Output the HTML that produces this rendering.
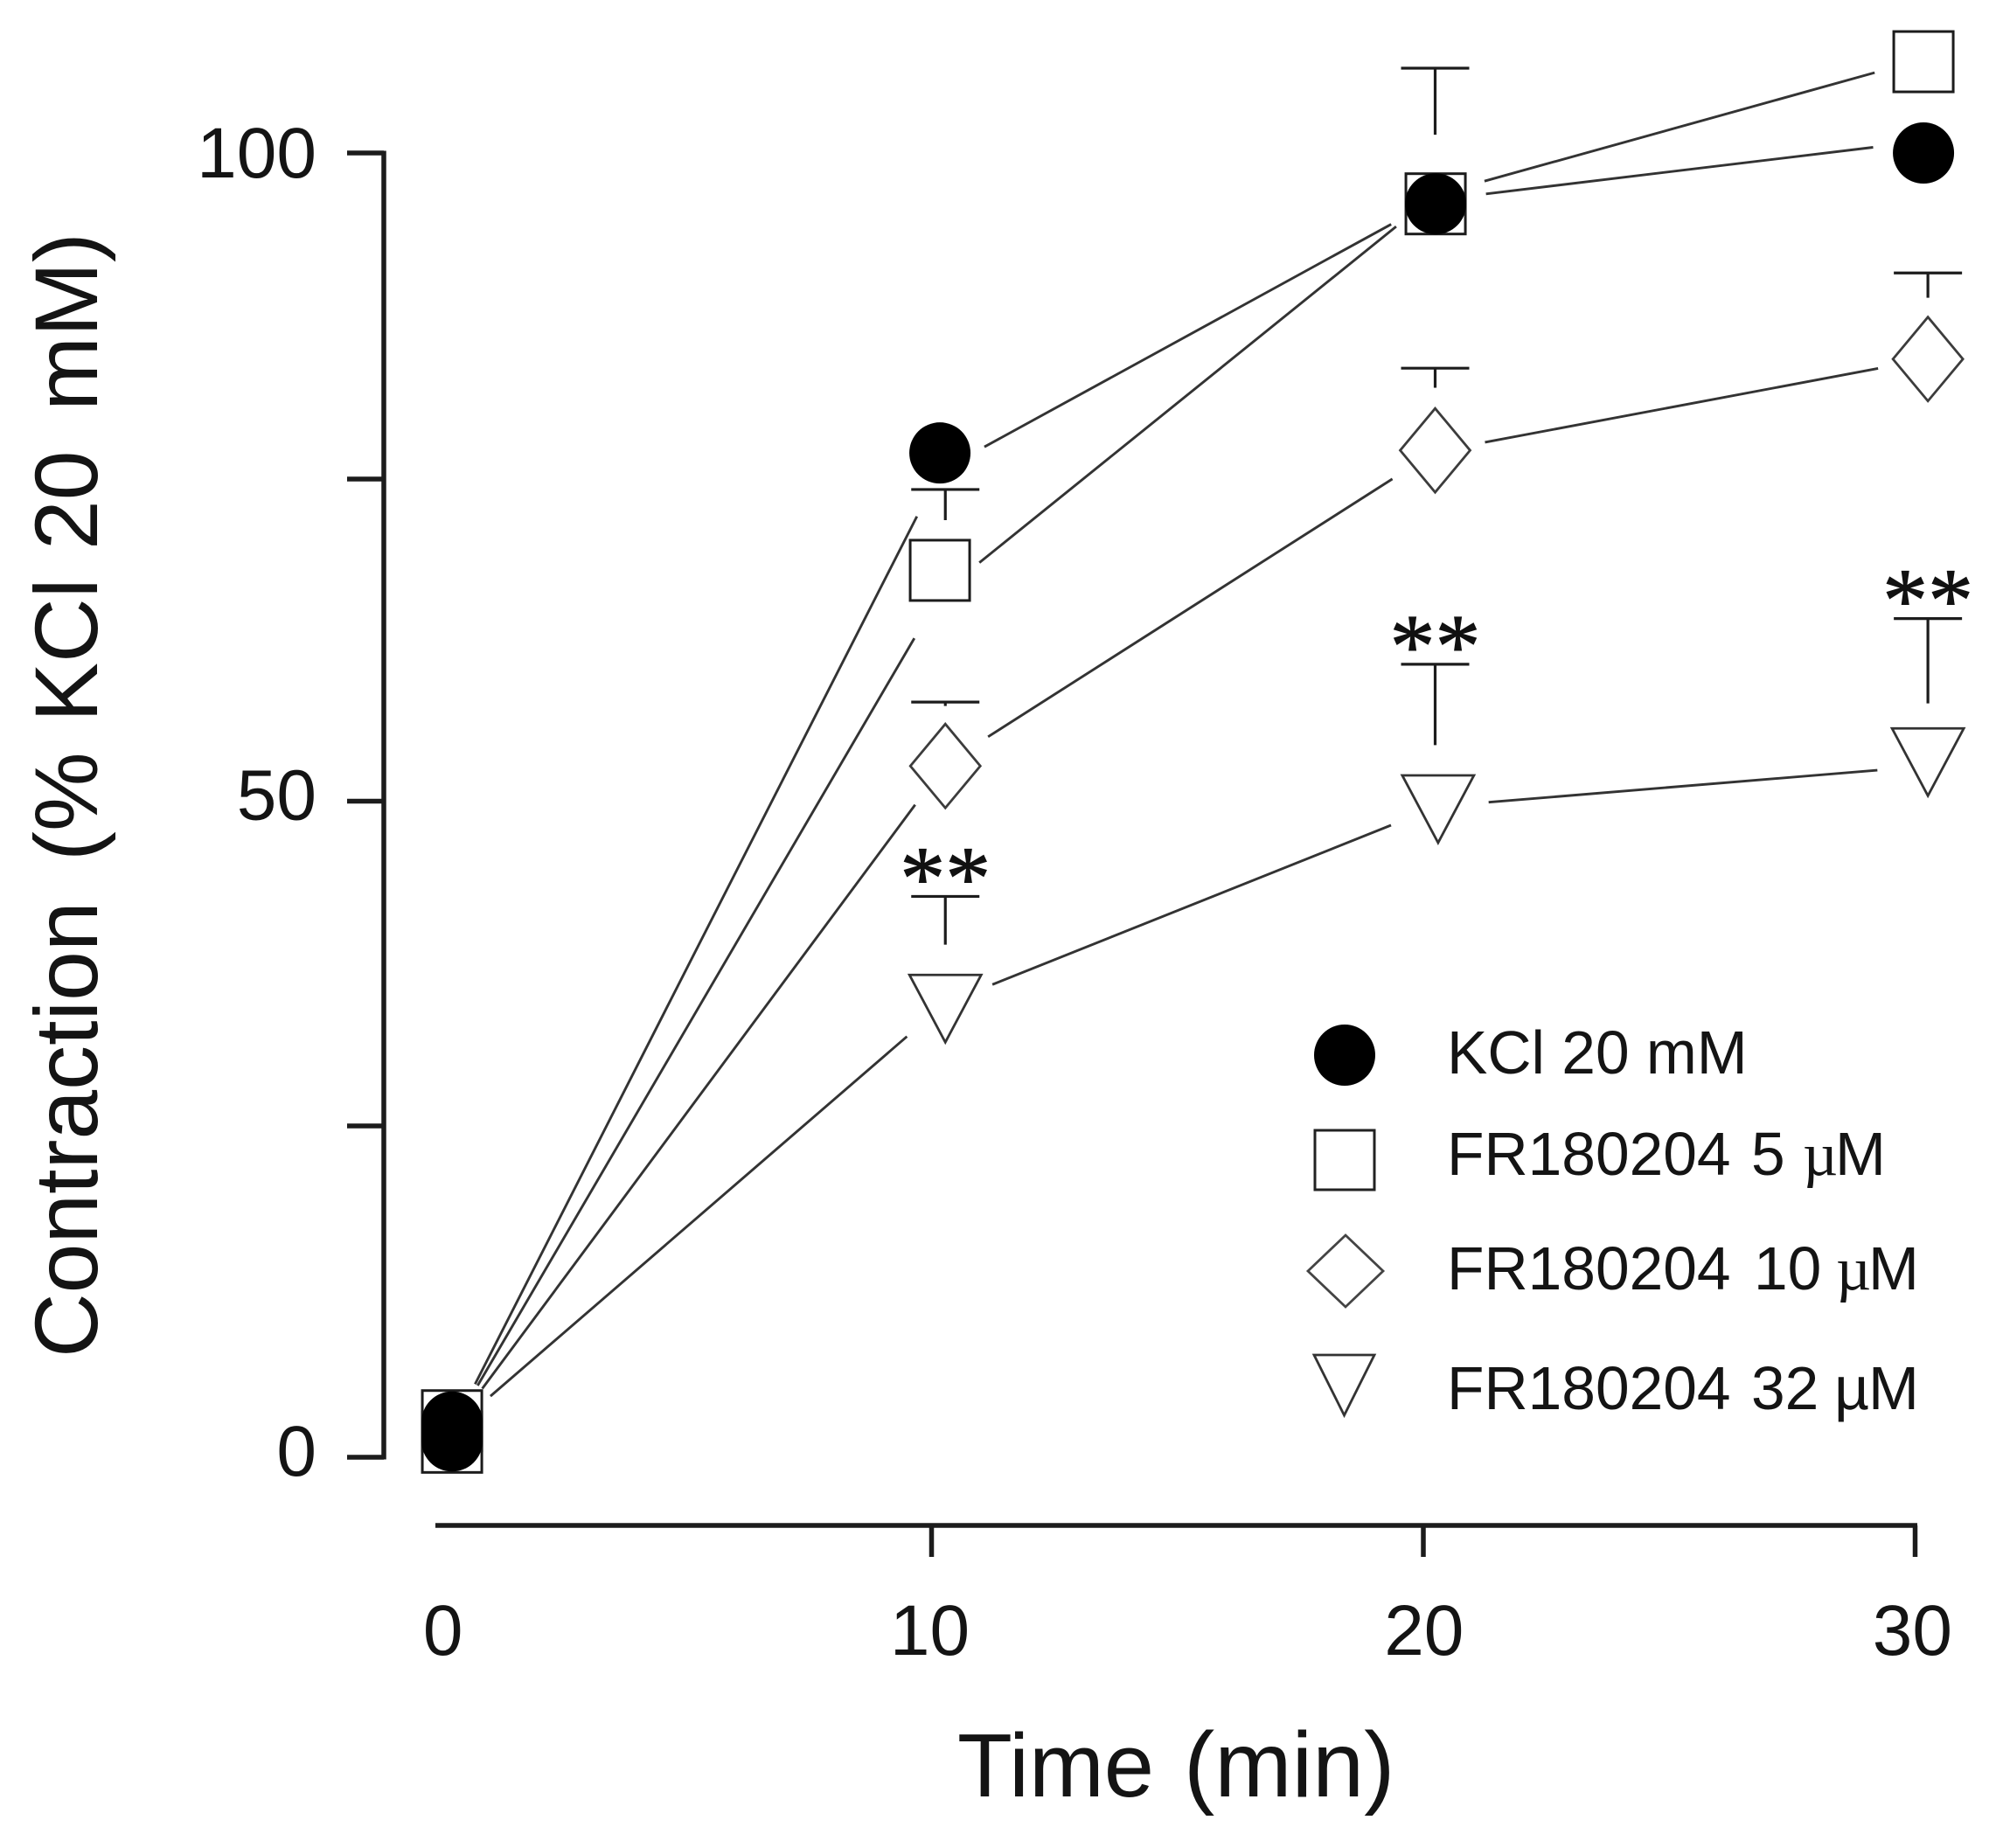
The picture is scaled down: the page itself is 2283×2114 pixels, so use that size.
<!DOCTYPE html>
<html lang="en">
<head>
<meta charset="utf-8">
<title>Contraction time course</title>
<style>
  html, body { margin: 0; padding: 0; background: #fff; }
  svg { display: block; }
  text { font-family: "Liberation Sans", sans-serif; fill: #141414; }
</style>
</head>
<body>
<svg id="chart" xmlns="http://www.w3.org/2000/svg" width="2283" height="2114" viewBox="0 0 2283 2114">
  <rect x="0" y="0" width="2283" height="2114" fill="#fff"/>
  <g id="axes"></g>
  <g id="lines"></g>
  <g id="errors"></g>
  <g id="markers"></g>
  <g id="stars"></g>

  <text transform="translate(111 1553) rotate(-90)" font-size="102"><tspan x="0">Contraction</tspan><tspan x="568">(%</tspan><tspan x="727">KCl</tspan><tspan x="924">20</tspan><tspan x="1083">mM)</tspan></text>
  <text y="2055" font-size="103"><tspan x="1095">Time</tspan><tspan x="1354" font-size="106">(min)</tspan></text>

  <g>
    <circle cx="1538" cy="1207" r="35" fill="#000"/>
    <rect x="1504" y="1293" width="68" height="68" fill="#fff" stroke="#222" stroke-width="3"/>
    <polygon points="1539,1413 1582,1454 1539,1495 1496,1454" fill="#fff" stroke="#444" stroke-width="2.800"/>
    <polygon points="1503,1550 1572,1550 1537.500,1619" fill="#fff" stroke="#333" stroke-width="2.800"/>
    <text x="1655" y="1228" font-size="69.500">KCl 20 mM</text>
    <text y="1344" font-size="69.500"><tspan x="1655">FR180204</tspan><tspan x="2003">5</tspan><tspan x="2062" font-family="Liberation Serif">µ</tspan><tspan x="2099">M</tspan></text>
    <text y="1475" font-size="69.500"><tspan x="1655">FR180204</tspan><tspan x="2006">10</tspan><tspan x="2100" font-family="Liberation Serif">µ</tspan><tspan x="2137">M</tspan></text>
    <text y="1612" font-size="69.500"><tspan x="1655">FR180204</tspan><tspan x="2003">32</tspan><tspan x="2098">µ</tspan><tspan x="2137">M</tspan></text>
  </g>
</svg>
<script>
// Axis tick data
var yTickValues = [0, 25.4, 50.3, 75, 100];
var yTickLabels = ["0", "", "50", "", "100"];
var xTickValues = [10, 20, 30];
var xLabelValues = [0.1, 10, 20.05, 29.98];
var xTickLabels = ["0", "10", "20", "30"];

// KCl 20 mM
var kclTimes = [10.17, 20.25, 30.17];
var kclValues = [77.0, 96.1, 100.0];
var kclLineTimes = [0.25, 10.17, 20.25, 30.17];
var kclLineValues = [2.14, 75.6, 96.4, 100.9];

// FR180204 5 uM
var fr5Times = [10.17, 20.25, 30.17];
var fr5Values = [68.0, 96.1, 107.0];
var fr5LineTimes = [0.25, 10.17, 20.25, 30.17];
var fr5LineValues = [2.14, 66.15, 96.8, 107.2];
var fr5ErrTimes = [10.28, 20.24];
var fr5ErrTop = [74.2, 106.5];
var fr5ErrBottom = [71.85, 101.4];

// FR180204 10 uM
var fr10Times = [10.28, 20.24, 30.26];
var fr10Values = [53.0, 77.2, 84.2];
var fr10LineTimes = [0.25, 10.28, 20.24, 30.26];
var fr10LineValues = [2.14, 53.15, 77.1, 84.2];
var fr10ErrTop = [57.9, 83.5, 90.8];
var fr10ErrBottom = [57.6, 82.0, 88.9];

// FR180204 32 uM
var fr32Times = [10.28, 20.3, 30.26];
var fr32Values = [34.4, 49.7, 53.3];
var fr32LineTimes = [0.25, 10.28, 20.3, 30.26];
var fr32LineValues = [2.14, 34.8, 49.9, 53.0];
var fr32ErrTimes = [10.28, 20.24, 30.26];
var fr32ErrTop = [43.0, 60.8, 64.3];
var fr32ErrBottom = [39.3, 54.6, 57.8];

// Overlapping markers at time zero
var baselineTime = [0.25];
var baselineSquareValues = [2.8, 1.15];
var baselineCircleValues = [2.7, 2.3, 1.9, 1.55, 1.25];

function xScale(t) { return 503 + 56.25 * t; }
function yScale(v) { return 1667 - 14.92 * v; }

var NS = 'http://www.w3.org/2000/svg';
function make(parentId, tag, attrs) {
  var node = document.createElementNS(NS, tag);
  for (var k in attrs) { node.setAttribute(k, attrs[k]); }
  document.getElementById(parentId).appendChild(node);
  return node;
}
var AXIS = { stroke: '#1c1c1c', 'stroke-width': 5.5, fill: 'none' };
function axisAttrs(o) { for (var k in AXIS) { o[k] = AXIS[k]; } return o; }

// Axes
var el = make('axes', 'line', axisAttrs({ x1: 439, x2: 439, y1: yScale(100) - 2.5, y2: yScale(0) + 2.5 }));


el = make('axes', 'line', axisAttrs({ x1: 498, x2: xScale(30) + 2.5, y1: 1745, y2: 1745 }));



yTickValues.forEach(function (v, i) {
  var t = make('axes', 'line', axisAttrs({ x1: 397, x2: 439, y1: yScale(v), y2: yScale(v) }));
  
  
  if (yTickLabels[i]) {
    var l = make('axes', 'text', { x: 362, y: yScale(v) + (v >= 100 ? 28 : 21), 'font-size': 82, 'text-anchor': 'end' });
    l.textContent = yTickLabels[i];
    
    
  }
});
xTickValues.forEach(function (v) {
  var t = make('axes', 'line', axisAttrs({ x1: xScale(v), x2: xScale(v), y1: 1745, y2: 1781 }));
  
  
});
xLabelValues.forEach(function (v, i) {
  var l = make('axes', 'text', { x: xScale(v) - 2, y: 1893, 'font-size': 82, 'text-anchor': 'middle' });
  l.textContent = xTickLabels[i];
  
  
});

// Connector lines with a gap around each vertex
var GAP = 58;
function drawLine(times, values, name) {
  for (var i = 0; i < times.length - 1; i++) {
    var x1 = xScale(times[i]), y1 = yScale(values[i]);
    var x2 = xScale(times[i + 1]), y2 = yScale(values[i + 1]);
    var dx = x2 - x1, dy = y2 - y1, d = Math.sqrt(dx * dx + dy * dy) || 1;
    var seg = make('lines', 'line', {
      x1: x1 + dx / d * GAP, y1: y1 + dy / d * GAP,
      x2: x2 - dx / d * GAP, y2: y2 - dy / d * GAP,
      stroke: '#333', 'stroke-width': 2.9
    });
    
    
  }
}
drawLine(kclLineTimes, kclLineValues, 'line-kcl');
drawLine(fr5LineTimes, fr5LineValues, 'line-fr5');
drawLine(fr10LineTimes, fr10LineValues, 'line-fr10');
drawLine(fr32LineTimes, fr32LineValues, 'line-fr32');

// Error bars
function drawErrors(times, tops, bottoms, name) {
  times.forEach(function (t, i) {
    var x = xScale(t), yt = yScale(tops[i]), yb = yScale(bottoms[i]);
    var stem = make('errors', 'line', { x1: x, x2: x, y1: yt, y2: yb, stroke: '#1c1c1c', 'stroke-width': 3.2 });
    
    
    var cap = make('errors', 'line', { x1: x - 39, x2: x + 39, y1: yt, y2: yt, stroke: '#1c1c1c', 'stroke-width': 3.2 });
    
    
  });
}
drawErrors(fr5ErrTimes, fr5ErrTop, fr5ErrBottom, 'error-fr5');
drawErrors(fr10Times, fr10ErrTop, fr10ErrBottom, 'error-fr10');
drawErrors(fr32ErrTimes, fr32ErrTop, fr32ErrBottom, 'error-fr32');

// Markers
function drawSquare(t, v) {
  var x = xScale(t), y = yScale(v);
  var m = make('markers', 'rect', { x: x - 34, y: y - 34.5, width: 68, height: 69, fill: '#fff', stroke: '#1c1c1c', 'stroke-width': 3 });
  
  
}
function drawCircle(t, v) {
  var m = make('markers', 'circle', { cx: xScale(t), cy: yScale(v), r: 35, fill: '#000' });
  
  
}
function drawDiamond(t, v) {
  var x = xScale(t), y = yScale(v);
  var m = make('markers', 'polygon', {
    points: (x - 40) + ',' + y + ' ' + x + ',' + (y - 48) + ' ' + (x + 40) + ',' + y + ' ' + x + ',' + (y + 48),
    fill: '#fff', stroke: '#3c3c3c', 'stroke-width': 2.8
  });
  
  
}
function drawTriangle(t, v) {
  var x = xScale(t), y = yScale(v);
  var m = make('markers', 'polygon', {
    points: (x - 41) + ',' + (y - 38.5) + ' ' + (x + 41) + ',' + (y - 38.5) + ' ' + x + ',' + (y + 38.5),
    fill: '#fff', stroke: '#333', 'stroke-width': 2.8
  });
  
  
}
fr10Times.forEach(function (t, i) { drawDiamond(t, fr10Values[i]); });
fr32Times.forEach(function (t, i) { drawTriangle(t, fr32Values[i]); });
fr5Times.forEach(function (t, i) { drawSquare(t, fr5Values[i]); });
kclTimes.forEach(function (t, i) { drawCircle(t, kclValues[i]); });
baselineSquareValues.forEach(function (v) { drawSquare(baselineTime[0], v); });
baselineCircleValues.forEach(function (v) { drawCircle(baselineTime[0], v); });

// Significance stars sit just above the FR180204 32 uM caps
fr32ErrTimes.forEach(function (t, i) {
  var s = make('stars', 'text', {
    x: xScale(t), y: yScale(fr32ErrTop[i]) + 14, 'font-size': 104, 'text-anchor': 'middle',
    style: 'font-family:"Liberation Serif",serif;fill:#111;stroke:#111;stroke-width:1'
  });
  s.textContent = '**';
  
  
});
</script>
</body>
</html>
